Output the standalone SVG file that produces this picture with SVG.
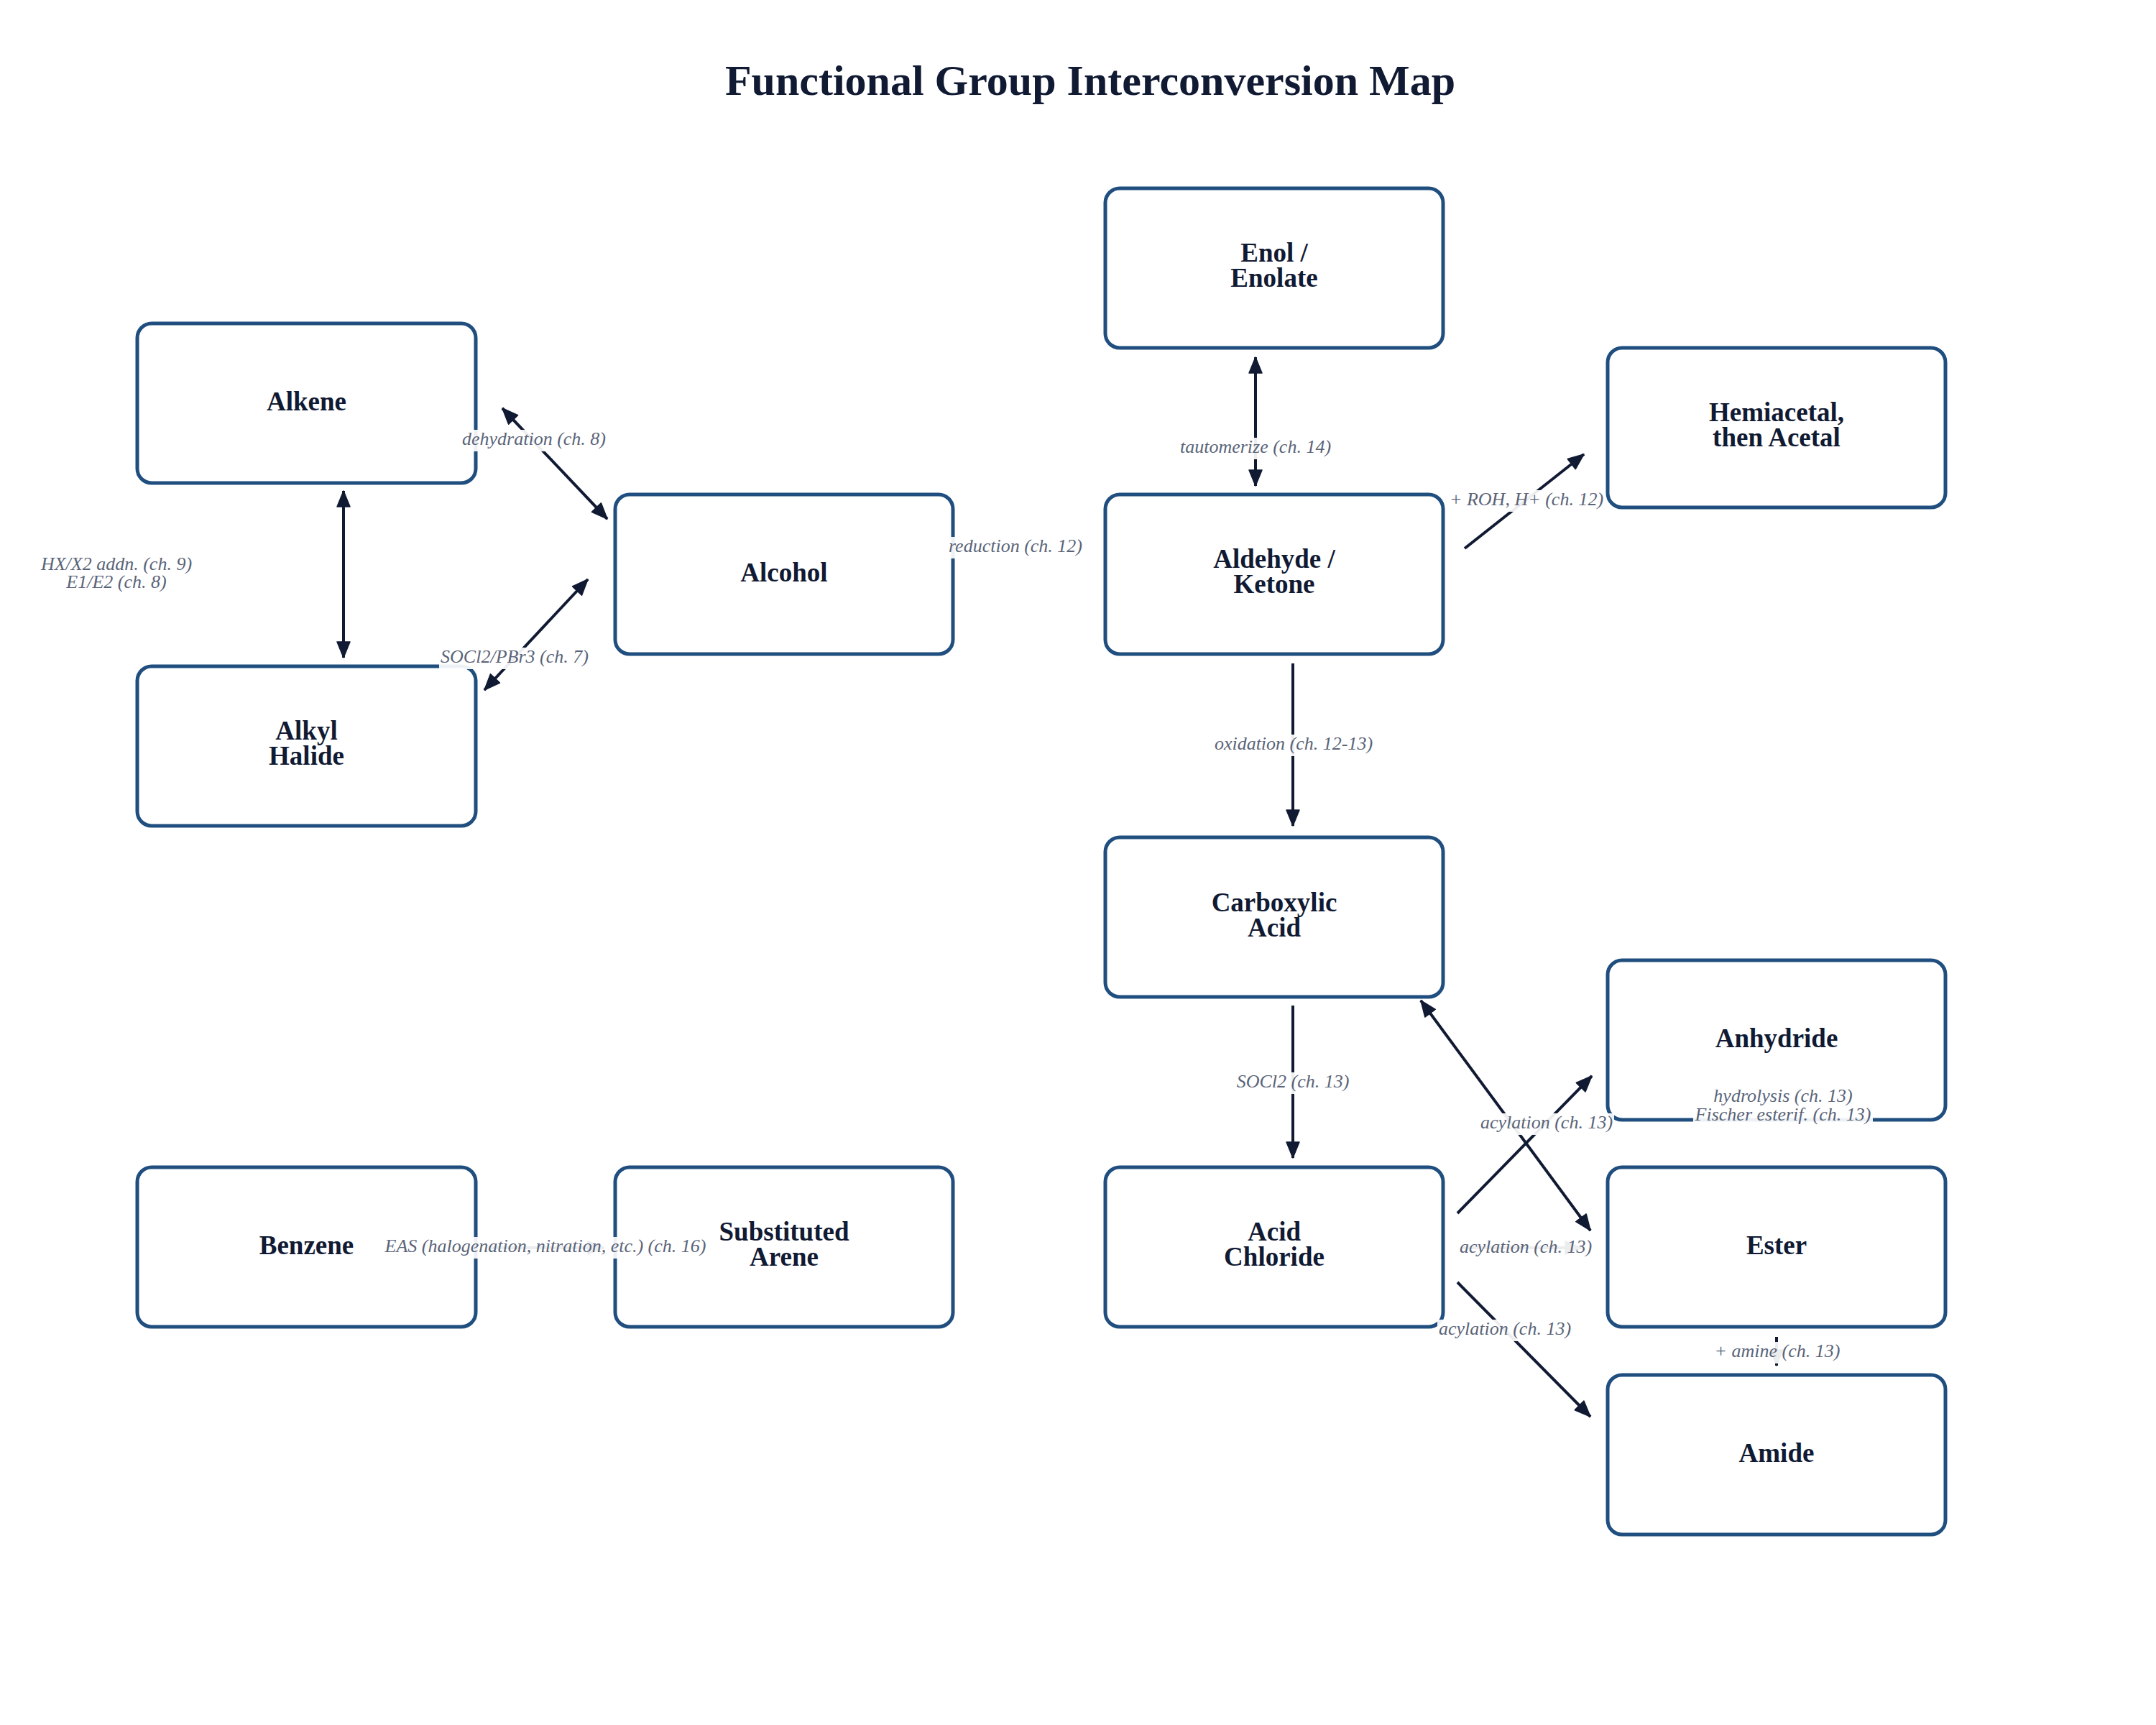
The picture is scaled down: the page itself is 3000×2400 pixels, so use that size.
<svg xmlns="http://www.w3.org/2000/svg" width="3000" height="2400" viewBox="0 0 3000 2400">
<style>
.node rect{fill:#ffffff;stroke:#1f4e7f;stroke-width:5}
.node text{font-family:"Liberation Serif","Times New Roman",serif;font-weight:bold;font-size:37px;fill:#111a33;text-anchor:middle}
.title{font-family:"Liberation Serif","Times New Roman",serif;font-weight:bold;font-size:60px;fill:#111a33;text-anchor:middle}
.edge{stroke:#111a33;stroke-width:4;fill:none}
.lbl text{font-family:"Liberation Serif","Times New Roman",serif;font-style:italic;font-size:26px;fill:#5a6478;text-anchor:middle}
.lbl rect{fill:#ffffff;fill-opacity:0.92}
</style>
<defs>
<marker id="arrow" viewBox="0 0 24 20" refX="23" refY="10" markerWidth="24" markerHeight="20" markerUnits="userSpaceOnUse" orient="auto-start-reverse">
<path d="M1,1 L23,10 L1,19 z" fill="#111a33" stroke="#111a33" stroke-width="1.5" stroke-linejoin="round"/>
</marker>
</defs>
<rect x="0" y="0" width="3000" height="2400" fill="#ffffff"/>
<text class="title" x="1517" y="132">Functional Group Interconversion Map</text>

<g id="nodes">
<g id="enol" class="node"><rect x="1538" y="262" width="470" height="222" rx="20"/><text x="1773" y="364">Enol /</text><text x="1773" y="399">Enolate</text></g>
<g id="alkene" class="node"><rect x="191" y="450" width="471" height="222" rx="20"/><text x="426.5" y="571">Alkene</text></g>
<g id="hemiacetal" class="node"><rect x="2237" y="484" width="470" height="222" rx="20"/><text x="2472" y="586">Hemiacetal,</text><text x="2472" y="621">then Acetal</text></g>
<g id="alcohol" class="node"><rect x="856" y="688" width="470" height="222" rx="20"/><text x="1091" y="809">Alcohol</text></g>
<g id="aldehyde" class="node"><rect x="1538" y="688" width="470" height="222" rx="20"/><text x="1773" y="790">Aldehyde /</text><text x="1773" y="825">Ketone</text></g>
<g id="alkyl-halide" class="node"><rect x="191" y="927" width="471" height="222" rx="20"/><text x="426.5" y="1029">Alkyl</text><text x="426.5" y="1064">Halide</text></g>
<g id="carboxylic-acid" class="node"><rect x="1538" y="1165" width="470" height="222" rx="20"/><text x="1773" y="1268">Carboxylic</text><text x="1773" y="1303">Acid</text></g>
<g id="anhydride" class="node"><rect x="2237" y="1336" width="470" height="222" rx="20"/><text x="2472" y="1457">Anhydride</text></g>
<g id="benzene" class="node"><rect x="191" y="1624" width="471" height="222" rx="20"/><text x="426.5" y="1745">Benzene</text></g>
<g id="substituted-arene" class="node"><rect x="856" y="1624" width="470" height="222" rx="20"/><text x="1091" y="1726">Substituted</text><text x="1091" y="1761">Arene</text></g>
<g id="acid-chloride" class="node"><rect x="1538" y="1624" width="470" height="222" rx="20"/><text x="1773" y="1726">Acid</text><text x="1773" y="1761">Chloride</text></g>
<g id="ester" class="node"><rect x="2237" y="1624" width="470" height="222" rx="20"/><text x="2472" y="1745">Ester</text></g>
<g id="amide" class="node"><rect x="2237" y="1913" width="470" height="222" rx="20"/><text x="2472" y="2034">Amide</text></g>
</g>

<g id="connectors">
<line class="edge" x1="699" y1="568" x2="845" y2="722" marker-start="url(#arrow)" marker-end="url(#arrow)"/>
<line class="edge" x1="478" y1="683" x2="478" y2="915" marker-start="url(#arrow)" marker-end="url(#arrow)"/>
<line class="edge" x1="674" y1="960" x2="818" y2="806" marker-start="url(#arrow)" marker-end="url(#arrow)"/>
<line class="edge" x1="1747" y1="497" x2="1747" y2="676" marker-start="url(#arrow)" marker-end="url(#arrow)"/>
<line class="edge" x1="2038" y1="763" x2="2204" y2="632" marker-end="url(#arrow)"/>
<line class="edge" x1="1799" y1="923" x2="1799" y2="1149" marker-end="url(#arrow)"/>
<line class="edge" x1="1799" y1="1399" x2="1799" y2="1611" marker-end="url(#arrow)"/>
<line class="edge" x1="1977" y1="1392" x2="2213" y2="1712" marker-start="url(#arrow)" marker-end="url(#arrow)"/>
<line class="edge" x1="2028" y1="1688" x2="2215" y2="1497" marker-end="url(#arrow)"/>
<line class="edge" x1="2035" y1="1736" x2="2200" y2="1736" marker-end="url(#arrow)"/>
<line class="edge" x1="2028" y1="1784" x2="2213" y2="1971" marker-end="url(#arrow)"/>
<line class="edge" x1="2472" y1="1860" x2="2472" y2="1900" marker-end="url(#arrow)"/>
<line class="edge" x1="680" y1="1736" x2="840" y2="1736" marker-end="url(#arrow)"/>
</g>

<g id="edge-labels" class="lbl">
<rect x="641" y="598" width="204" height="30"/><text x="743" y="619">dehydration (ch. 8)</text>
<text x="162" y="793">HX/X2 addn. (ch. 9)</text><text x="162" y="818">E1/E2 (ch. 8)</text>
<rect x="611" y="901" width="210" height="30"/><text x="716" y="922">SOCl2/PBr3 (ch. 7)</text>
<rect x="1318" y="747" width="191" height="30"/><text x="1413" y="768">reduction (ch. 12)</text>
<rect x="1640" y="609" width="214" height="30"/><text x="1747" y="630">tautomerize (ch. 14)</text>
<rect x="2015" y="682" width="218" height="30"/><text x="2124" y="703">+ ROH, H+ (ch. 12)</text>
<rect x="1695" y="1022" width="211" height="30"/><text x="1800" y="1043">oxidation (ch. 12-13)</text>
<rect x="1719" y="1492" width="161" height="30"/><text x="1799" y="1513">SOCl2 (ch. 13)</text>
<rect x="2356" y="1510" width="250" height="57"/><text x="2481" y="1533">hydrolysis (ch. 13)</text><text x="2481" y="1559">Fischer esterif. (ch. 13)</text>
<rect x="2058" y="1549" width="188" height="30"/><text x="2152" y="1570">acylation (ch. 13)</text>
<rect x="2029" y="1722" width="188" height="30"/><text x="2123" y="1743">acylation (ch. 13)</text>
<rect x="2000" y="1836" width="188" height="30"/><text x="2094" y="1857">acylation (ch. 13)</text>
<rect x="2385" y="1867" width="178" height="30"/><text x="2473" y="1888">+ amine (ch. 13)</text>
<rect x="534" y="1721" width="451" height="30"/><text x="759" y="1742">EAS (halogenation, nitration, etc.) (ch. 16)</text>
</g>
</svg>
